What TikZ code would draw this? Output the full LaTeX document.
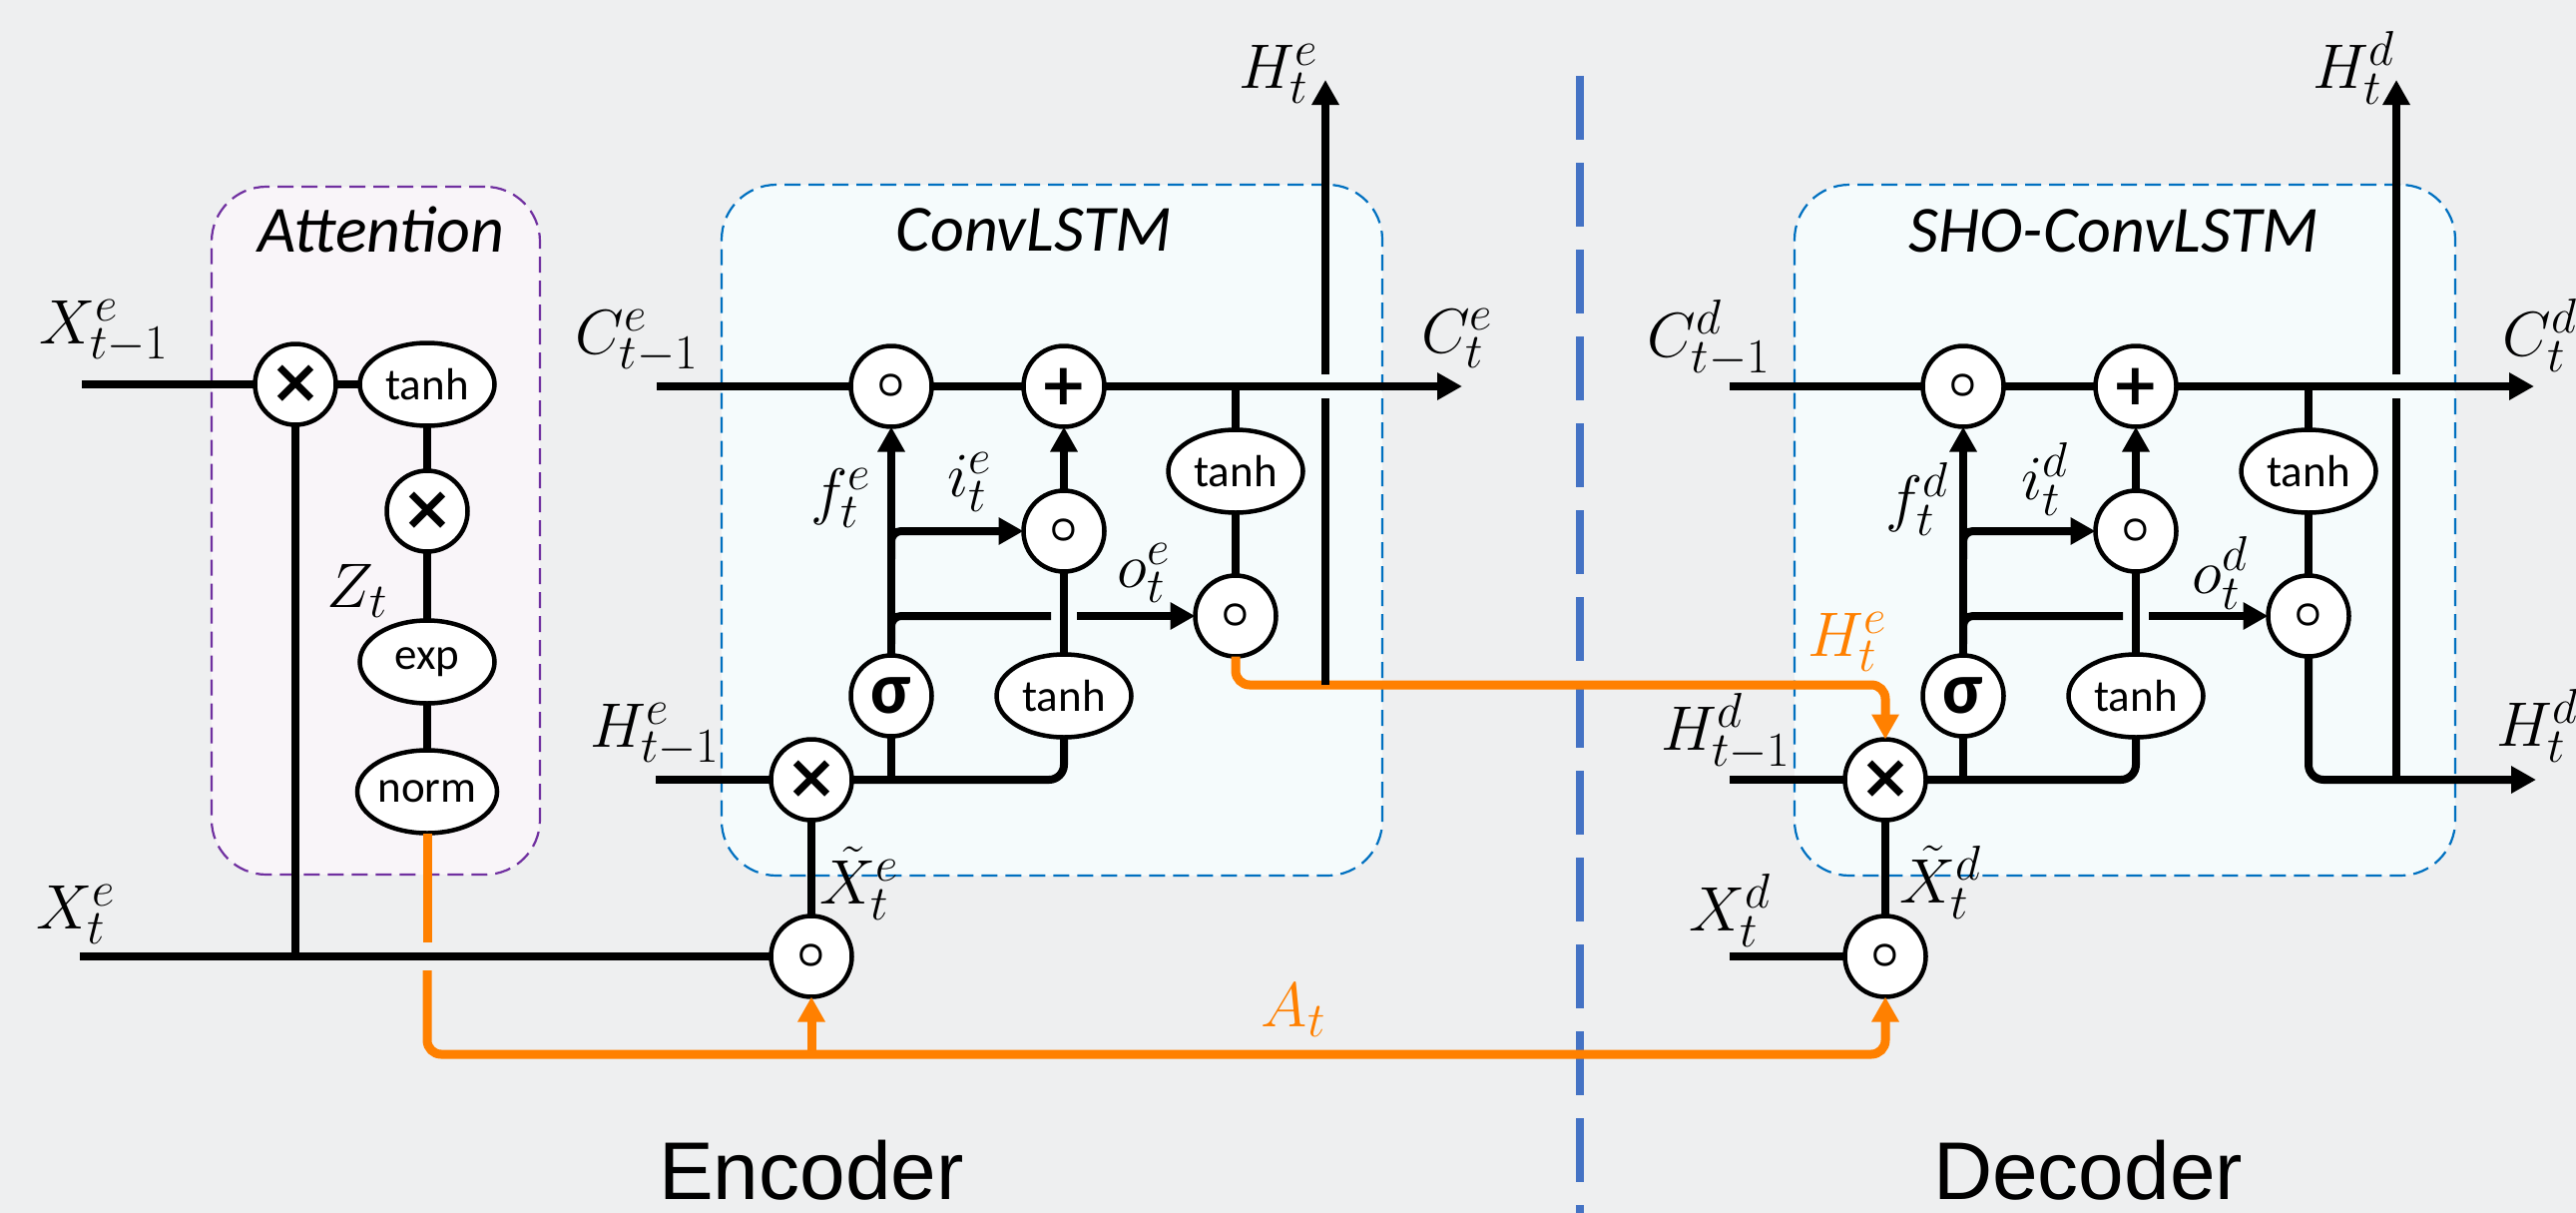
\RequirePackage{fix-cm}
\documentclass[tikz,border=0pt]{standalone}
\usepackage{fontspec}
\usetikzlibrary{arrows.meta,shapes.geometric}
\newfontfamily\calib{Carlito}
\newfontfamily\arialf{Liberation Sans}
\newfontfamily\djv{DejaVu Sans}
\DeclareMathSizes{63}{63}{49}{38}
\DeclareMathSizes{50}{50}{38}{30}
\definecolor{bgc}{RGB}{238,239,240}
\definecolor{orng}{RGB}{255,128,0}
\definecolor{divb}{RGB}{68,114,196}
\definecolor{attfill}{RGB}{249,245,249}
\definecolor{attline}{RGB}{112,48,160}
\definecolor{lstmfill}{RGB}{245,251,252}
\definecolor{lstmline}{RGB}{0,112,192}
\newcommand{\mulsym}{{\djv\bfseries\fontsize{62}{62}\selectfont ×}}
\newcommand{\addsym}{{\djv\bfseries\fontsize{58}{58}\selectfont +}}
\newcommand{\hadsym}{{\fontsize{50}{50}\selectfont\boldmath$\circ$}}
\newcommand{\sigsym}{{\calib\bfseries\fontsize{74}{74}\selectfont σ}}
\tikzset{
  ln/.style={line width=8pt, draw=black},
  org/.style={line width=9pt, draw=orng},
  tip/.style={-{Triangle[length=25pt,width=26pt]}},
  opc/.style={circle, draw=black, line width=4.5pt, fill=white, minimum size=81pt, inner sep=0pt, outer sep=0pt},
  ope/.style={ellipse, draw=black, line width=4.5pt, fill=white, minimum width=135pt, minimum height=83pt, inner sep=0pt, outer sep=0pt, font=\calib\fontsize{45}{45}\selectfont},
  lbl/.style={inner sep=0pt, font=\fontsize{63}{66}\selectfont},
  ttl/.style={anchor=base, inner sep=0pt, font=\calib\itshape\fontsize{66}{70}\selectfont},
  bigt/.style={anchor=base, inner sep=0pt, font=\arialf\fontsize{82}{86}\selectfont},
  boxatt/.style={rectangle, rounded corners=55pt, draw=attline, fill=attfill, line width=2.2pt, dash pattern=on 16pt off 8pt, minimum width=329pt, minimum height=689pt},
  boxlstm/.style={rectangle, rounded corners=55pt, draw=lstmline, fill=lstmfill, line width=2.2pt, dash pattern=on 16pt off 8pt, minimum width=662pt, minimum height=692pt},
}
\begin{document}
\begin{tikzpicture}[x=1pt,y=-1pt]
\useasboundingbox (0,0) rectangle (2581,1215);
\clip (0,0) rectangle (2581,1215);
\fill[bgc] (0,0) rectangle (2581,1215);

% boxes
\node[boxatt] (attbox) at (376.5,531.5) {};
\node[boxlstm] (encbox) at (1054,531) {};
\node[boxlstm] (decbox) at (2129,531) {};
\node[ttl] (atttitle) at (382,252) {Attention};
\node[ttl] (enctitle) at (1036,251) {ConvLSTM};
\node[ttl] (dectitle) at (2118,252) {SHO-ConvLSTM};

% divider
\coordinate (divtop) at (1583,76);
\coordinate (divbot) at (1583,1215);
\draw[line width=8pt, draw=divb, dash pattern=on 64pt off 23pt] (divtop) -- (divbot);

% attention nodes
\node[opc] (amul1) at (296,385) {\mulsym};
\node[ope] (atanh) at (428,385) {tanh};
\node[opc] (amul2) at (428,512) {\mulsym};
\node[ope] (aexp) at (428,663) {exp};
\node[ope] (anorm) at (428,793) {norm};

% encoder nodes
\node[opc] (efg) at (893,387) {\hadsym};
\node[opc] (eplus) at (1066,387) {\addsym};
\node[opc] (eig) at (1066,532) {\hadsym};
\node[opc] (esig) at (893,697) {\sigsym};
\node[ope] (etanhL) at (1066,697) {tanh};
\node[ope] (etanhU) at (1238,472) {tanh};
\node[opc] (eog) at (1238,617) {\hadsym};
\node[opc] (emul) at (813,781) {\mulsym};
\node[opc] (exg) at (813,958) {\hadsym};

% decoder nodes
\node[opc] (dfg) at (1967,387) {\hadsym};
\node[opc] (dplus) at (2140,387) {\addsym};
\node[opc] (dig) at (2140,532) {\hadsym};
\node[opc] (dsig) at (1967,697) {\sigsym};
\node[ope] (dtanhL) at (2140,697) {tanh};
\node[ope] (dtanhU) at (2313,472) {tanh};
\node[opc] (dog) at (2313,617) {\hadsym};
\node[opc] (dmul) at (1889,781) {\mulsym};
\node[opc] (dxg) at (1889,958) {\hadsym};

% coordinates
\coordinate (xin1) at (82,385);
\coordinate (xin0) at (80,958);
\coordinate (ajoin) at (296,958);
\coordinate (agap1) at (428,944);
\coordinate (agap2) at (428,972);
\coordinate (acorner) at (1889,1056);
\coordinate (hcorner) at (1889,686);
\coordinate (ecin) at (658,387);
\coordinate (ecout) at (1465,387);
\coordinate (ehin) at (657,781);
\coordinate (eob1) at (1053,617);
\coordinate (eob2) at (1079,617);
\coordinate (eh1) at (1328,686);
\coordinate (eh2) at (1328,399);
\coordinate (eh3) at (1328,375);
\coordinate (eh4) at (1328,80);
\coordinate (dcin) at (1733,387);
\coordinate (dcout) at (2539,387);
\coordinate (dhin) at (1733,781);
\coordinate (dob1) at (2127,617);
\coordinate (dob2) at (2153,617);
\coordinate (dhout) at (2541,781);
\coordinate (dh1) at (2401,781);
\coordinate (dh2) at (2401,399);
\coordinate (dh3) at (2401,375);
\coordinate (dh4) at (2401,80);
\coordinate (dxin) at (1733,958);

% attention lines
\draw[ln] (xin1) -- (amul1.west);
\draw[ln] (amul1.east) -- (atanh.west);
\draw[ln] (atanh.south) -- (amul2.north);
\draw[ln] (amul2.south) -- (aexp.north);
\draw[ln] (aexp.south) -- (anorm.north);
\draw[ln] (amul1.south) -- (ajoin);
\draw[ln] (xin0) -- (exg.west);

% orange attention path
\draw[org] (anorm.south) -- (agap1);
\draw[org, tip, rounded corners=14pt] (agap2) |- (acorner) -- (dxg.south);
\draw[org, tip] (exg.south |- acorner) -- (exg.south);

% orange hidden path
\draw[org, tip, rounded corners=14pt] (eog.south) |- (hcorner) -- (dmul.north);

% encoder lines
\draw[ln] (ecin) -- (efg.west);
\draw[ln] (efg.east) -- (eplus.west);
\draw[ln, tip] (eplus.east) -- (ecout);
\draw[ln] (etanhU.north |- ecin) -- (etanhU.north);
\draw[ln] (etanhU.south) -- (eog.north);
\draw[ln] (ehin) -- (emul.west);
\draw[ln, rounded corners=15pt] (emul.east) -| (etanhL.south);
\draw[ln] (esig.south |- emul) -- (esig.south);
\draw[ln, tip] (esig.north) -- (efg.south);
\draw[ln, tip, rounded corners=10pt] (esig.north |- 0,560) |- (eig.west);
\draw[ln, rounded corners=10pt] (esig.north |- 0,645) |- (eob1);
\draw[ln, tip] (eob2) -- (eog.west);
\draw[ln] (etanhL.north) -- (eig.south);
\draw[ln, tip] (eig.north) -- (eplus.south);
\draw[ln] (emul.south) -- (exg.north);
\draw[ln] (eh1) -- (eh2);
\draw[ln, tip] (eh3) -- (eh4);

% decoder lines
\draw[ln] (dcin) -- (dfg.west);
\draw[ln] (dfg.east) -- (dplus.west);
\draw[ln, tip] (dplus.east) -- (dcout);
\draw[ln] (dtanhU.north |- dcin) -- (dtanhU.north);
\draw[ln] (dtanhU.south) -- (dog.north);
\draw[ln] (dhin) -- (dmul.west);
\draw[ln, rounded corners=15pt] (dmul.east) -| (dtanhL.south);
\draw[ln] (dsig.south |- dmul) -- (dsig.south);
\draw[ln, tip] (dsig.north) -- (dfg.south);
\draw[ln, tip, rounded corners=10pt] (dsig.north |- 0,560) |- (dig.west);
\draw[ln, rounded corners=10pt] (dsig.north |- 0,645) |- (dob1);
\draw[ln, tip] (dob2) -- (dog.west);
\draw[ln] (dtanhL.north) -- (dig.south);
\draw[ln, tip] (dig.north) -- (dplus.south);
\draw[ln] (dmul.south) -- (dxg.north);
\draw[ln, tip, rounded corners=15pt] (dog.south) |- (dhout);
\draw[ln] (dh1) -- (dh2);
\draw[ln, tip] (dh3) -- (dh4);
\draw[ln] (dxin) -- (dxg.west);

% labels
\node[lbl] (lxe1) at (104,332) {$X^{e}_{t-1}$};
\node[lbl] (lxe0) at (76,916) {$X^{e}_{t}$};
\node[lbl] (lzt) at (358,592) {$Z_{t}$};
\node[lbl] (lce1) at (638,342) {$C^{e}_{t-1}$};
\node[lbl] (lhe1) at (656,736) {$H^{e}_{t-1}$};
\node[lbl] (lfe) at (842,499) {$f^{e}_{t}$};
\node[lbl] (lie) at (971,483) {$i^{e}_{t}$};
\node[lbl] (loe) at (1146,574) {$o^{e}_{t}$};
\node[lbl] (lxte) at (861,885) {$\tilde{X}^{e}_{t}$};
\node[lbl] (lhet) at (1281,74) {$H^{e}_{t}$};
\node[lbl] (lcet) at (1460,339) {$C^{e}_{t}$};
\node[lbl, text=orng] (lat) at (1296,1012) {$A_{t}$};
\node[lbl] (lcd1) at (1712,339) {$C^{d}_{t-1}$};
\node[lbl] (lhd1) at (1729,733) {$H^{d}_{t-1}$};
\node[lbl] (lxd) at (1733,912) {$X^{d}_{t}$};
\node[lbl] (lxtd) at (1944,884) {$\tilde{X}^{d}_{t}$};
\node[lbl] (lfd) at (1921,500) {$f^{d}_{t}$};
\node[lbl] (lid) at (2049,480) {$i^{d}_{t}$};
\node[lbl] (lod) at (2224,574) {$o^{d}_{t}$};
\node[lbl] (lhdt) at (2358,68) {$H^{d}_{t}$};
\node[lbl] (lcdt) at (2545,336) {$C^{d}_{t}$};
\node[lbl] (lhdr) at (2542,727) {$H^{d}_{t}$};
\node[lbl, text=orng] (lheo) at (1851,643) {$H^{e}_{t}$};

\node[bigt] (enclab) at (813,1201) {Encoder};
\node[bigt] (declab) at (2092,1201) {Decoder};
\end{tikzpicture}
\end{document}
